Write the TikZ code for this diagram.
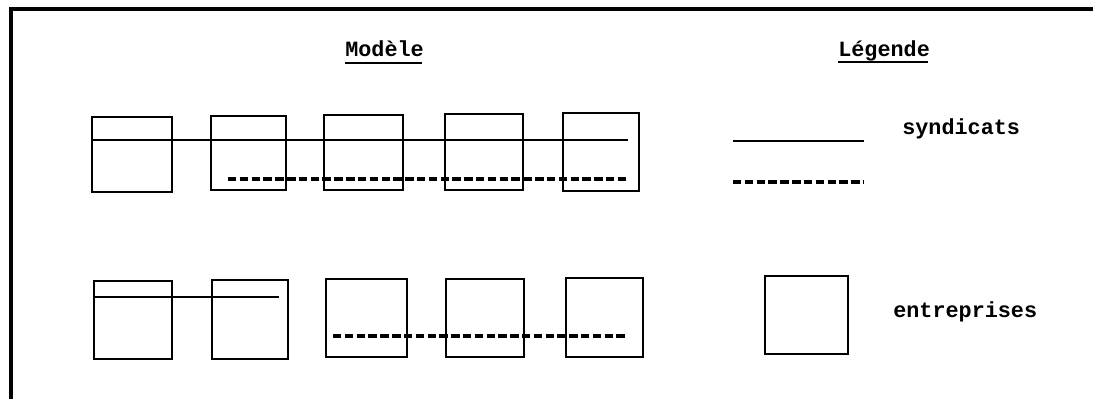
\documentclass[tikz,border=0pt]{standalone}
\usepackage{fontspec}
\setmainfont{Liberation Mono}
\begin{document}
\begin{tikzpicture}[x=0.025cm, y=-0.025cm,
    firm/.style={line width=1.5pt},
    union/.style={line width=1.6pt},
    unionb/.style={line width=2.6pt, dash pattern=on 6pt off 2.4pt},
    label/.style={inner sep=0pt, anchor=base west, font=\fontsize{15.5}{18}\selectfont\bfseries}]
    \useasboundingbox (0,0) rectangle (1093,399);

    % frame, only its top and left edges
    \draw[line width=2.8pt] (11,399) -- (11,9) -- (1093,9);

    % titles
    \node[label] (modele) at (345,57) {Modèle};
    \node[label] (legende) at (838,57) {Légende};
    \draw[line width=1.2pt] (345,63) -- (422,63);
    \draw[line width=1.2pt] (838,62) -- (928,62);

    % upper row of firms
    \draw[firm] (92,117) rectangle (172,192);
    \draw[firm] (211,116) rectangle (286,190);
    \draw[firm] (324,115) rectangle (403,190);
    \draw[firm] (445,114) rectangle (523,190);
    \draw[firm] (563,113) rectangle (639,191);

    \coordinate (s1a) at (92,140);
    \coordinate (s1b) at (628,140);
    \coordinate (s2a) at (228,179);
    \coordinate (s2b) at (628,179);
    \draw[union] (s1a) -- (s1b);
    \draw[unionb] (s2a) -- (s2b);

    % lower row of firms
    \draw[firm] (94,281) rectangle (172,359);
    \draw[firm] (212,280) rectangle (288,359);
    \draw[firm] (326,279) rectangle (407,357);
    \draw[firm] (446,279) rectangle (524,357);
    \draw[firm] (566,278) rectangle (643,357);

    \coordinate (s3a) at (94,297);
    \coordinate (s3b) at (279,297);
    \coordinate (s4a) at (333,336);
    \coordinate (s4b) at (628,336);
    \draw[union] (s3a) -- (s3b);
    \draw[unionb] (s4a) -- (s4b);

    % legend
    \coordinate (l1a) at (733,141);
    \coordinate (l1b) at (864,141);
    \coordinate (l2a) at (733,182);
    \coordinate (l2b) at (864,182);
    \draw[union] (l1a) -- (l1b);
    \draw[unionb] (l2a) -- (l2b);
    \node[label] (syndicats) at (902,135) {syndicats};

    \draw[firm] (765,276) rectangle (848,354);
    \node[label] (entreprises) at (893,318) {entreprises};
\end{tikzpicture}
\end{document}
